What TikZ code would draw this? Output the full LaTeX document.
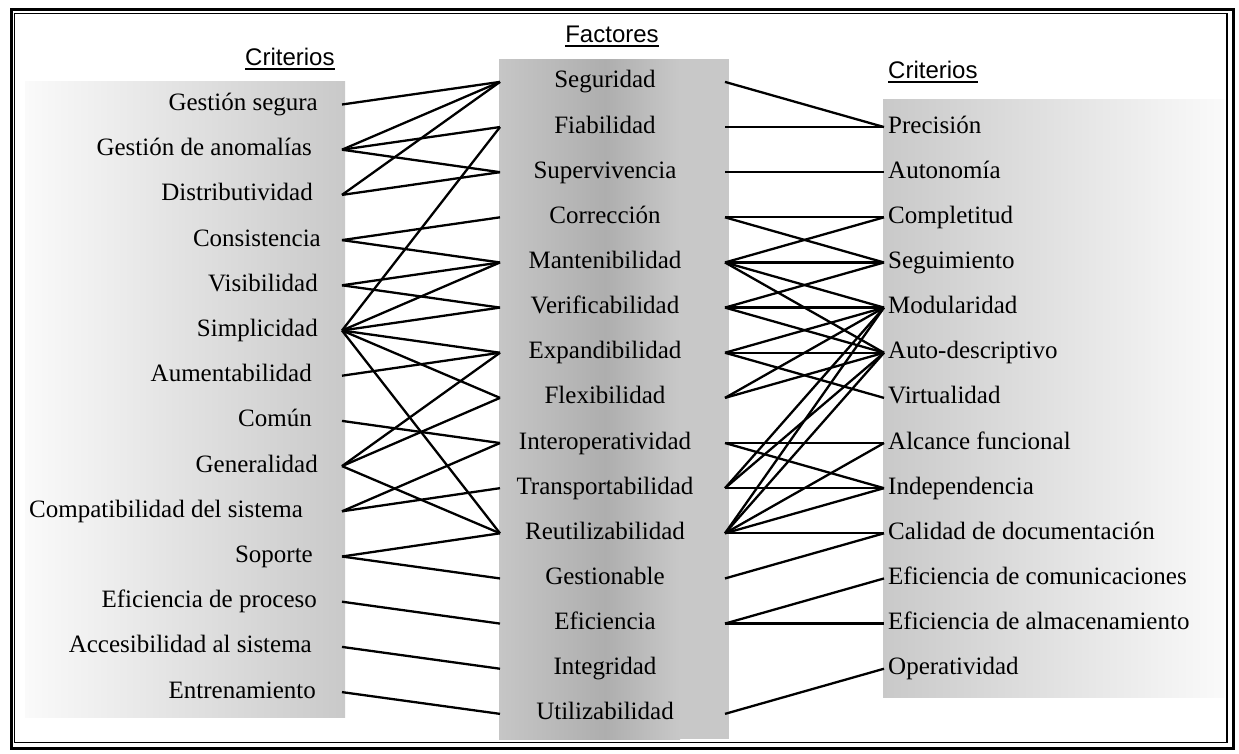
\documentclass[tikz,border=0pt]{standalone}
\usepackage{fontspec}
\setmainfont{Liberation Serif}
\newfontfamily\headfont{Liberation Sans}
\definecolor{sideLight}{RGB}{250,250,250}
\definecolor{sideDark}{RGB}{201,201,201}
\definecolor{midEdge}{RGB}{198,198,198}
\definecolor{midDeep}{RGB}{174,174,174}
\definecolor{midFlat}{RGB}{200,200,200}
% underlined heading text
\newcommand\headline[1]{\setbox0=\hbox{#1}\rlap{\rule[-4.8pt]{\wd0}{1.6pt}}\box0}
\begin{document}
\begin{tikzpicture}[x=1pt,y=-1pt,
  crit/.style={font={\fontsize{25}{30}\selectfont}, inner sep=0pt},
  head/.style={font={\headfont\fontsize{24}{28}\selectfont}, inner sep=0pt},
  link/.style={line width=2.3pt}]
\useasboundingbox (0,0) rectangle (1239,753);

% double frame
\draw[line width=2.8pt] (11.2,9.2) rectangle (1233.4,748.4);
\draw[line width=1.5pt] (14.7,13.3) rectangle (1227.2,742.5);

% shaded panels
\fill[left color=sideLight, right color=sideDark] (25,81) rectangle (345,717);
\fill[midFlat] (499,59.3) rectangle (729,739.3);
\fill[left color=midEdge, right color=midDeep] (499,59.3) rectangle (605.5,739.3);
\fill[left color=midDeep, right color=midFlat] (605,59.3) rectangle (680,739.3);
\fill[left color=sideDark, right color=sideLight] (883,99) rectangle (1224,697);

% headings
\node[head,anchor=base west] (hl) at (245,65) {\headline{Criterios}};
\node[head,anchor=base] (hc) at (612,42) {\headline{Factores}};
\node[head,anchor=base west] (hr) at (888,78) {\headline{Criterios}};

% left criteria (text baseline sits 6pt below the connector row)
\foreach \i/\t/\o in {1/Gestión segura/0,2/Gestión de anomalías/6,3/Distributividad/5,
  4/Consistencia/-3,5/Visibilidad/0,6/Simplicidad/0,7/Aumentabilidad/6,8/Común/6,
  9/Generalidad/0,10/Compatibilidad del sistema/15,11/Soporte/5,
  12/Eficiencia de proceso/1,13/Accesibilidad al sistema/6,14/Entrenamiento/2}{
  \pgfmathsetmacro\yy{104.5+45.2*(\i-1)}
  \node[crit,anchor=base east] (c\i) at (318-\o,\yy+6) {\t};
  \coordinate (cp\i) at (342,\yy);
}

% factors
\foreach \i/\t in {1/Seguridad,2/Fiabilidad,3/Supervivencia,4/Corrección,
  5/Mantenibilidad,6/Verificabilidad,7/Expandibilidad,8/Flexibilidad,
  9/Interoperatividad,10/Transportabilidad,11/Reutilizabilidad,12/Gestionable,
  13/Eficiencia,14/Integridad,15/Utilizabilidad}{
  \pgfmathsetmacro\yy{81.9+45.14*(\i-1)}
  \node[crit,anchor=base] (f\i) at (605,\yy+6) {\t};
  \coordinate (fl\i) at (500,\yy);
  \coordinate (fr\i) at (725,\yy);
}

% right criteria
\foreach \i/\t in {1/Precisión,2/Autonomía,3/Completitud,4/Seguimiento,
  5/Modularidad,6/Auto-descriptivo,7/Virtualidad,8/Alcance funcional,
  9/Independencia,10/Calidad de documentación,11/Eficiencia de comunicaciones,
  12/Eficiencia de almacenamiento,13/Operatividad}{
  \pgfmathsetmacro\yy{81.9+45.14*\i}
  \node[crit,anchor=base west] (r\i) at (888,\yy+6) {\t};
  \coordinate (rp\i) at (884,\yy);
}

% criteria -> factors
\foreach \a/\b in {1/1,2/1,2/2,2/3,3/1,3/3,4/4,4/5,5/5,5/6,6/2,6/5,6/6,6/7,6/8,6/11,
  7/7,8/9,9/7,9/8,9/11,10/9,10/10,11/11,11/12,12/13,13/14,14/15}
  \draw[link] (cp\a) -- (fl\b);

% factors -> criteria
\foreach \a/\b in {1/1,2/1,3/2,4/3,4/4,5/3,5/4,5/5,5/6,6/4,6/5,6/6,7/5,7/6,7/7,
  8/5,8/6,9/8,9/9,10/9,10/5,10/6,11/10,11/9,11/8,11/5,11/6,12/10,13/11,13/12,15/13}
  \draw[link] (fr\a) -- (rp\b);
\end{tikzpicture}
\end{document}
